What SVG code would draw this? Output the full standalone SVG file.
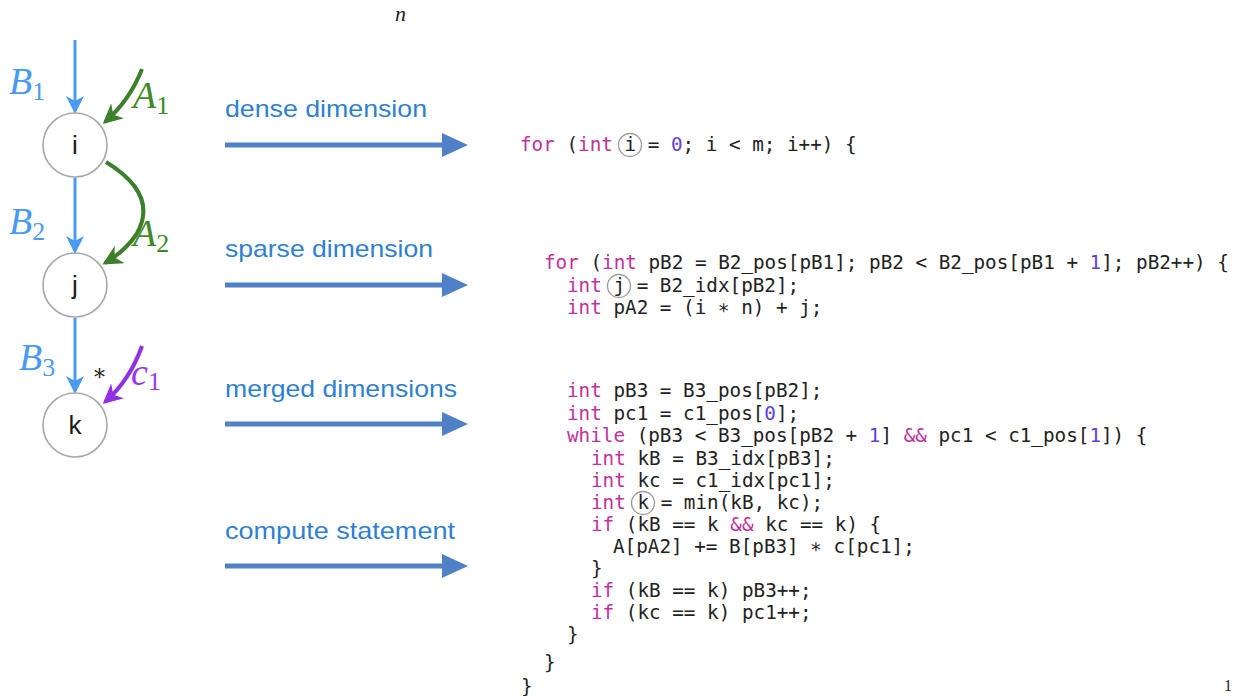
<svg xmlns="http://www.w3.org/2000/svg" width="1243" height="696" viewBox="0 0 1243 696">
<style>
.node{fill:#fff;stroke:#a8a8a8;stroke-width:1.6}
.nl{font-family:"Liberation Sans",Arial,sans-serif;font-size:26px;fill:#1a1a1a;text-anchor:middle}
.ml{font-family:"Liberation Serif","DejaVu Serif",serif;font-style:italic;font-size:38px}
.sub{font-family:"Liberation Serif","DejaVu Serif",serif;font-style:normal;font-size:26px}
.lab{font-family:"Liberation Sans",Arial,sans-serif;font-size:24px;fill:#2f7fd2}
.code{font-family:"DejaVu Sans Mono",monospace;font-size:19.3px;fill:#222;white-space:pre}
.kw{fill:#c4309e}
.num{fill:#5b3ee8}
.vc{fill:none;stroke:#999;stroke-width:1.3}
.blue{stroke:#4a9af2;stroke-width:3;fill:none}
.green{stroke:#3c7f2c;stroke-width:4;fill:none}
.purple{stroke:#9230e8;stroke-width:4;fill:none}
.big{stroke:#4f80c8;stroke-width:5;fill:none}
</style>
<defs>
<marker id="mbb" markerWidth="18" markerHeight="18" refX="15" refY="9" orient="auto" markerUnits="userSpaceOnUse" viewBox="0 0 18 18"><path d="M0,0 L18,9 L0,18 L5,9 z" fill="#4a9af2"/></marker>
<marker id="mg" markerWidth="20" markerHeight="20" refX="17" refY="10" orient="auto" markerUnits="userSpaceOnUse" viewBox="0 0 20 20"><path d="M0,0 L20,10 L0,20 L6,10 z" fill="#3c7f2c"/></marker>
<marker id="mp" markerWidth="20" markerHeight="20" refX="17" refY="10" orient="auto" markerUnits="userSpaceOnUse" viewBox="0 0 20 20"><path d="M0,0 L20,10 L0,20 L6,10 z" fill="#9230e8"/></marker>
<marker id="mbig" markerWidth="26" markerHeight="26" refX="2" refY="13" orient="auto" markerUnits="userSpaceOnUse" viewBox="0 0 26 26"><path d="M0,1 L26,13 L0,25 z" fill="#4f80c8"/></marker>
</defs>

<text x="395" y="21" style="font-family:'Liberation Serif',serif;font-style:italic;font-size:22px;fill:#222">n</text>

<g id="connectors">
<path class="blue" d="M75,40 L75,111" marker-end="url(#mbb)"/>
<path class="blue" d="M75,178 L75,251" marker-end="url(#mbb)"/>
<path class="blue" d="M75,318 L75,391" marker-end="url(#mbb)"/>
<path class="green" d="M142,69 Q130,100 105,122" marker-end="url(#mg)"/>
<path class="green" d="M106,162 Q160,195 136,235 Q124,252 105,263" marker-end="url(#mg)"/>
<path class="purple" d="M142,346 Q130,380 105,402" marker-end="url(#mp)"/>
<path class="big" d="M225,145 L444,145" marker-end="url(#mbig)"/>
<path class="big" d="M225,285 L444,285" marker-end="url(#mbig)"/>
<path class="big" d="M225,424 L444,424" marker-end="url(#mbig)"/>
<path class="big" d="M225,566 L444,566" marker-end="url(#mbig)"/>
</g>

<g id="edge-labels">
<text x="9" y="94" class="ml" fill="#4a9af2">B<tspan class="sub" dy="6">1</tspan></text>
<text x="9" y="234" class="ml" fill="#4a9af2">B<tspan class="sub" dy="6">2</tspan></text>
<text x="19" y="370" class="ml" fill="#4a9af2">B<tspan class="sub" dy="6">3</tspan></text>
<text x="133" y="108" class="ml" fill="#3c8a2a">A<tspan class="sub" dy="6">1</tspan></text>
<text x="133" y="246" class="ml" fill="#3c8a2a">A<tspan class="sub" dy="6">2</tspan></text>
<text x="131" y="385" class="ml" fill="#9a35ee">c<tspan class="sub" dy="5">1</tspan></text>
<text x="94" y="385" style="font-family:'DejaVu Serif',serif;font-size:22px;fill:#222">*</text>
</g>

<g id="node-i"><circle class="node" cx="75" cy="145" r="32"/><text class="nl" x="75" y="154">i</text></g>
<g id="node-j"><circle class="node" cx="75" cy="285" r="32"/><text class="nl" x="75" y="294">j</text></g>
<g id="node-k"><circle class="node" cx="75" cy="425" r="32"/><text class="nl" x="75" y="434">k</text></g>

<g id="labels">
<text class="lab" x="225" y="117" textLength="202" lengthAdjust="spacingAndGlyphs">dense dimension</text>
<text class="lab" x="225" y="257" textLength="208" lengthAdjust="spacingAndGlyphs">sparse dimension</text>
<text class="lab" x="225" y="397" textLength="232" lengthAdjust="spacingAndGlyphs">merged dimensions</text>
<text class="lab" x="225" y="539" textLength="230" lengthAdjust="spacingAndGlyphs">compute statement</text>
</g>

<g id="code" class="code" xml:space="preserve">
<text x="520" y="151"><tspan class="kw">for</tspan> (<tspan class="kw">int</tspan> i = <tspan class="num">0</tspan>; i &lt; m; i++) {</text>
<text x="544" y="269"><tspan class="kw">for</tspan> (<tspan class="kw">int</tspan> pB2 = B2_pos[pB1]; pB2 &lt; B2_pos[pB1 + <tspan class="num">1</tspan>]; pB2++) {</text>
<text x="567" y="292"><tspan class="kw">int</tspan> j = B2_idx[pB2];</text>
<text x="567" y="314"><tspan class="kw">int</tspan> pA2 = (i ∗ n) + j;</text>
<text x="567" y="397"><tspan class="kw">int</tspan> pB3 = B3_pos[pB2];</text>
<text x="567" y="420"><tspan class="kw">int</tspan> pc1 = c1_pos[<tspan class="num">0</tspan>];</text>
<text x="567" y="442"><tspan class="kw">while</tspan> (pB3 &lt; B3_pos[pB2 + <tspan class="num">1</tspan>] <tspan class="kw">&amp;&amp;</tspan> pc1 &lt; c1_pos[<tspan class="num">1</tspan>]) {</text>
<text x="591" y="465"><tspan class="kw">int</tspan> kB = B3_idx[pB3];</text>
<text x="591" y="487"><tspan class="kw">int</tspan> kc = c1_idx[pc1];</text>
<text x="591" y="509"><tspan class="kw">int</tspan> k = min(kB, kc);</text>
<text x="591" y="531"><tspan class="kw">if</tspan> (kB == k <tspan class="kw">&amp;&amp;</tspan> kc == k) {</text>
<text x="613" y="553">A[pA2] += B[pB3] ∗ c[pc1];</text>
<text x="591" y="575">}</text>
<text x="591" y="597"><tspan class="kw">if</tspan> (kB == k) pB3++;</text>
<text x="591" y="619"><tspan class="kw">if</tspan> (kc == k) pc1++;</text>
<text x="567" y="641">}</text>
<text x="544" y="669">}</text>
<text x="521" y="693">}</text>
</g>

<g id="var-circles">
<circle class="vc" cx="630" cy="145" r="11.5"/>
<circle class="vc" cx="619" cy="286" r="11.5"/>
<circle class="vc" cx="643" cy="503" r="11.5"/>
</g>

<text x="1224" y="691" style="font-family:'Liberation Serif',serif;font-size:16px;fill:#222">1</text>
</svg>
